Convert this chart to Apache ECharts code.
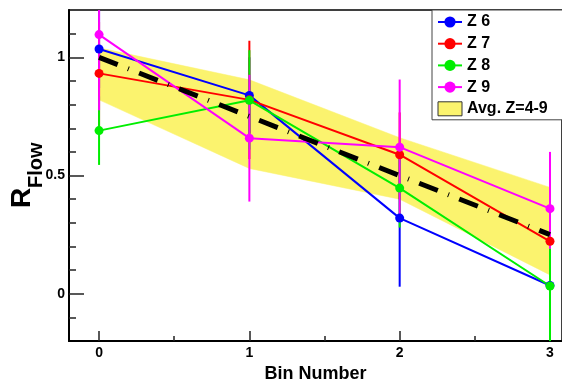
<!DOCTYPE html>
<html>
<head>
<meta charset="utf-8">
<script src="https://cdn.jsdelivr.net/npm/echarts@6/dist/echarts.min.js"></script>
<style>
  html, body { margin: 0; padding: 0; background: #fff; }
  #chart { width: 562px; height: 388px; }
</style>
</head>
<body>
<div id="chart"></div>
<script>
// bins on the x axis
const bins = [0, 1, 2, 3];

// R_Flow per charge, with error bar ends (low / high)
const z6 = [1.035, 0.839, 0.32, 0.035];
const z6Lo = [0.87, 0.68, 0.03, -0.27];
const z6Hi = [1.2, 1.0, 0.61, 0.34];

const z7 = [0.932, 0.82, 0.588, 0.222];
const z7Lo = [0.71, 0.57, 0.40, -0.01];
const z7Hi = [1.15, 1.07, 0.767, 0.454];

const z8 = [0.69, 0.818, 0.447, 0.033];
const z8Lo = [0.545, 0.61, 0.28, -0.25];
const z8Hi = [0.835, 1.03, 0.61, 0.31];

const z9 = [1.096, 0.658, 0.62, 0.36];
const z9Lo = [0.776, 0.39, 0.33, 0.19];
const z9Hi = [1.42, 0.926, 0.906, 0.60];

// average over Z=4-9 and its band
const avg = [1.0, 0.75, 0.5, 0.25];
const bandLo = [0.82, 0.53, 0.40, 0.08];
const bandHi = [1.04, 0.905, 0.66, 0.45];

const xTicks = [0, 1, 2, 3];
const xMinorTicks = [0.5, 1.5, 2.5];
const yTicks = [0, 0.5, 1];
const yMinorTicks = [-0.1, 0.1, 0.2, 0.3, 0.4, 0.6, 0.7, 0.8, 0.9, 1.1];

const Y_MIN = -0.2, Y_MAX = 1.2;
const FONT = 'Liberation Sans';
const BAND_COLOR = '#fbf36e';

const chart = echarts.init(document.getElementById('chart'), null, { renderer: 'canvas' });

function pairs(ys) {
  return bins.map((b, i) => [b, ys[i]]);
}

function lineSeries(name, color, ys) {
  return {
    type: 'line',
    name: name,
    data: pairs(ys),
    symbol: 'circle',
    symbolSize: 9,
    lineStyle: { color: color, width: 2 },
    itemStyle: { color: color },
    z: 4
  };
}

function errSeries(name, color, lo, hi) {
  return {
    type: 'custom',
    name: name + ' err',
    data: bins.map((b, i) => [b, lo[i], hi[i]]),
    renderItem: function (params, api) {
      const a = api.coord([api.value(0), Math.max(api.value(1), Y_MIN)]);
      const b = api.coord([api.value(0), Math.min(api.value(2), Y_MAX)]);
      return {
        type: 'line',
        shape: { x1: a[0], y1: a[1], x2: b[0], y2: b[1] },
        style: { stroke: color, lineWidth: 2 }
      };
    },
    z: 3
  };
}

// band segments between neighbouring bins
const bandSegments = bins.slice(1).map((b, i) =>
  [bins[i], bandLo[i], bandHi[i], b, bandLo[i + 1], bandHi[i + 1]]);

const axisText = { color: '#000', fontWeight: 'bold', fontSize: 14, fontFamily: FONT };

const option = {
  animation: false,
  backgroundColor: '#fff',
  grid: {
    left: 69, top: 10, right: 0, bottom: 41,
    show: true, borderColor: '#000', borderWidth: 1.5
  },
  xAxis: [
    {
      type: 'value', min: -0.2, max: 3.08, position: 'bottom',
      axisLine: { show: true, onZero: false, lineStyle: { color: '#000', width: 2 } },
      axisTick: { show: true, inside: true, length: 10, customValues: xTicks, lineStyle: { color: '#222', width: 1.5 } },
      axisLabel: Object.assign({ customValues: xTicks, margin: 5 }, axisText),
      splitLine: { show: false },
      name: 'Bin Number', nameLocation: 'middle', nameGap: 21,
      nameTextStyle: { color: '#000', fontWeight: 'bold', fontSize: 18, fontFamily: FONT }
    },
    {
      type: 'value', min: -0.2, max: 3.08, position: 'bottom',
      axisLine: { show: false, onZero: false },
      axisTick: { show: true, inside: true, length: 5, customValues: xMinorTicks, lineStyle: { color: '#222', width: 1.5 } },
      axisLabel: { show: false },
      splitLine: { show: false }
    }
  ],
  yAxis: [
    {
      type: 'value', min: Y_MIN, max: Y_MAX, position: 'left',
      axisLine: { show: true, onZero: false, lineStyle: { color: '#000', width: 2 } },
      axisTick: { show: true, inside: true, length: 15, customValues: yTicks, lineStyle: { color: '#222', width: 1.5 } },
      axisLabel: Object.assign({ customValues: yTicks, margin: 4 }, axisText),
      splitLine: { show: false }
    },
    {
      type: 'value', min: Y_MIN, max: Y_MAX, position: 'left',
      axisLine: { show: false, onZero: false },
      axisTick: { show: true, inside: true, length: 7, customValues: yMinorTicks, lineStyle: { color: '#222', width: 1.5 } },
      axisLabel: { show: false },
      splitLine: { show: false }
    }
  ],
  legend: {
    orient: 'vertical',
    left: 432, top: 10,
    padding: [4, 24, 3, 5],
    itemWidth: 24, itemHeight: 14, itemGap: 5.7,
    backgroundColor: '#fff',
    borderColor: '#444', borderWidth: 1,
    textStyle: { color: '#000', fontWeight: 'bold', fontSize: 16, fontFamily: FONT },
    data: [
      'Z 6', 'Z 7', 'Z 8', 'Z 9',
      { name: 'Avg. Z=4-9', icon: 'rect', itemStyle: { color: BAND_COLOR, borderColor: '#333', borderWidth: 1 } }
    ]
  },
  graphic: [
    {
      type: 'text', x: 22, y: 208, rotation: Math.PI / 2,
      style: { text: 'R', font: 'bold 28px "Liberation Sans"', fill: '#000', align: 'left', verticalAlign: 'middle' }
    },
    {
      type: 'text', x: 36, y: 188, rotation: Math.PI / 2,
      style: { text: 'Flow', font: 'bold 20px "Liberation Sans"', fill: '#000', align: 'left', verticalAlign: 'middle' }
    }
  ],
  series: [
    {
      type: 'custom', name: 'Avg. Z=4-9',
      data: bandSegments,
      itemStyle: { color: BAND_COLOR },
      renderItem: function (params, api) {
        const p = [
          api.coord([api.value(0), api.value(1)]),
          api.coord([api.value(3), api.value(4)]),
          api.coord([api.value(3), api.value(5)]),
          api.coord([api.value(0), api.value(2)])
        ];
        return {
          type: 'polygon',
          shape: { points: p },
          style: { fill: BAND_COLOR, stroke: BAND_COLOR, lineWidth: 0.5 }
        };
      },
      z: 1, silent: true
    },
    errSeries('Z 6', '#0000ff', z6Lo, z6Hi),
    lineSeries('Z 6', '#0000ff', z6),
    errSeries('Z 7', '#ff0000', z7Lo, z7Hi),
    lineSeries('Z 7', '#ff0000', z7),
    errSeries('Z 8', '#00ee00', z8Lo, z8Hi),
    lineSeries('Z 8', '#00ee00', z8),
    errSeries('Z 9', '#ff00ff', z9Lo, z9Hi),
    lineSeries('Z 9', '#ff00ff', z9),
    {
      type: 'line', name: 'avg line',
      data: pairs(avg), symbol: 'none',
      lineStyle: { color: '#000', width: 5, type: [20, 11, 1, 11], cap: 'butt' },
      z: 6
    }
  ]
};

chart.setOption(option);
</script>
</body>
</html>
